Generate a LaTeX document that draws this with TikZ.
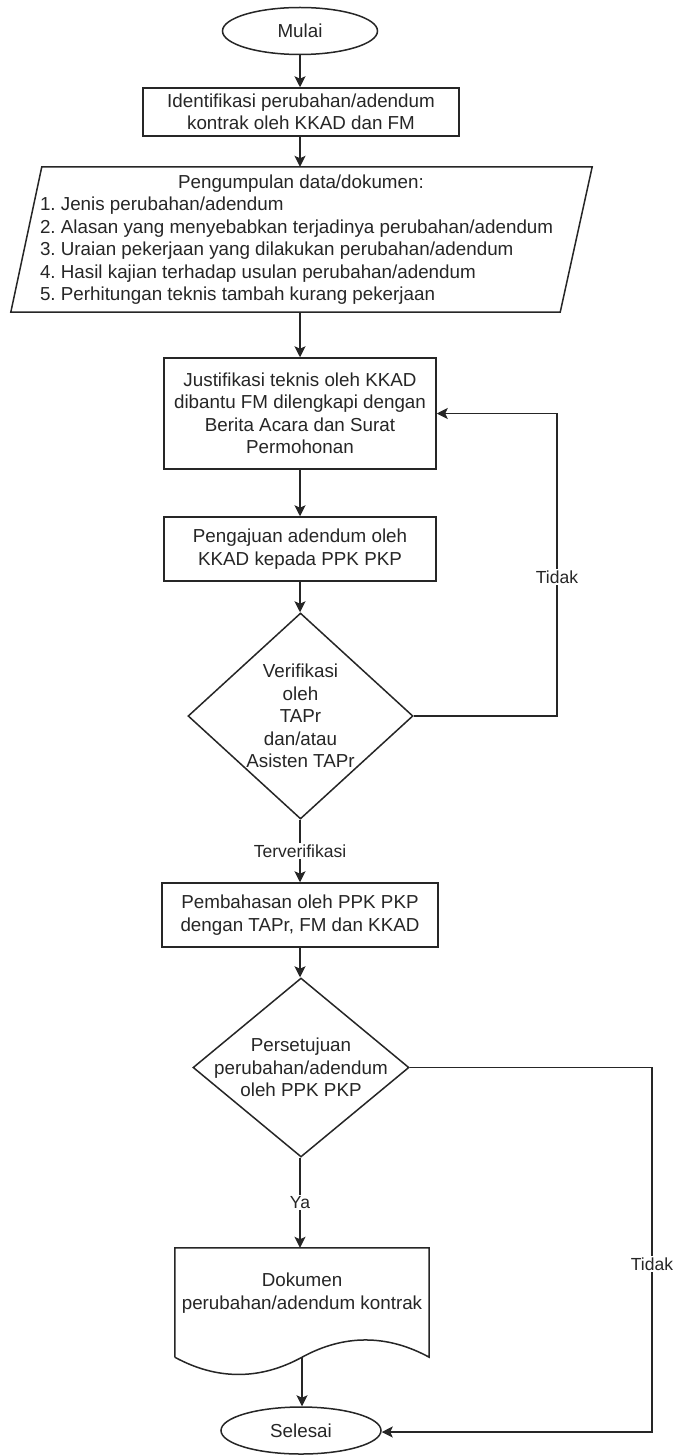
\documentclass[tikz,border=0pt]{standalone}
\usepackage{fontspec}
\setmainfont{Liberation Sans}
\usetikzlibrary{shapes.geometric,arrows.meta,calc}
\definecolor{ink}{HTML}{262626}
\frenchspacing
\begin{document}
\begin{tikzpicture}[x=1pt,y=-1pt,
  every node/.style={font=\fontsize{18.8}{22.5}\selectfont, text=ink},
  base/.style={draw=ink, line width=1.5pt},
  term/.style={base, ellipse, inner sep=0pt, minimum width=155pt, minimum height=47pt},
  proc/.style={base, rectangle, inner sep=0pt, align=center},
  decide/.style={base, diamond, inner sep=0pt},
  arr/.style={draw=ink, line width=1.5pt, -{Stealth[length=11pt,width=11pt,inset=2.5pt]}},
  lbl/.style={fill=white, inner sep=1.5pt, font=\fontsize{17.5}{20}\selectfont},
]
% page area
\path[fill=white, use as bounding box] (0,0) rectangle (677,1455);

% start
\node[term] (mulai) at (300,31) {Mulai};

% identification
\node[proc, minimum width=316pt, minimum height=48pt] (ident) at (301,112)
  {Identifikasi perubahan/adendum\\kontrak oleh KKAD dan FM};

% data collection: parallelogram with a left-aligned list inside
\node[rectangle, inner sep=0pt, minimum width=581pt, minimum height=145pt,
      label={[align=left, anchor=west, inner sep=0pt, xshift=29pt]west:%
        \makebox[522pt][c]{Pengumpulan data/dokumen:}\\
        1. Jenis perubahan/adendum\\
        2. Alasan yang menyebabkan terjadinya perubahan/adendum\\
        3. Uraian pekerjaan yang dilakukan perubahan/adendum\\
        4. Hasil kajian terhadap usulan perubahan/adendum\\
        5. Perhitungan teknis tambah kurang pekerjaan}] (data) at (301.5,239.5) {};
\draw[base] ($(data.north west)+(31,0)$) -- (data.north east)
  -- ($(data.south east)+(-32,0)$) -- (data.south west) -- cycle;

% technical justification
\node[proc, minimum width=272pt, minimum height=111pt] (just) at (300,413.5)
  {Justifikasi teknis oleh KKAD\\dibantu FM dilengkapi dengan\\Berita Acara dan Surat\\Permohonan};

% submission
\node[proc, minimum width=272pt, minimum height=64pt] (ajuan) at (300,549)
  {Pengajuan adendum oleh\\KKAD kepada PPK PKP};

% verification decision
\node[decide, minimum width=225pt, minimum height=206pt,
      label={[align=center]center:Verifikasi\\oleh\\TAPr\\dan/atau\\Asisten TAPr}] (verif) at (300.5,716) {};

% discussion
\node[proc, minimum width=276pt, minimum height=64pt] (bahas) at (300,915)
  {Pembahasan oleh PPK PKP\\dengan TAPr, FM dan KKAD};

% approval decision
\node[decide, minimum width=216pt, minimum height=179pt,
      label={[align=center]center:Persetujuan\\perubahan/adendum\\oleh PPK PKP}] (setuju) at (301,1067.5) {};

% output document (wavy bottom)
\node[rectangle, inner sep=0pt, minimum width=254pt, minimum height=109pt,
      label={[align=center, yshift=9.5pt]center:Dokumen\\perubahan/adendum kontrak}] (dok) at (302,1302.5) {};
\draw[base] (dok.south west) -- (dok.north west) -- (dok.north east) -- (dok.south east)
  .. controls ($(dok.south)+(85,-23)$) and ($(dok.south)+(42,-23)$) .. (dok.south)
  .. controls ($(dok.south)+(-42,23)$) and ($(dok.south)+(-85,23)$) .. (dok.south west);

% end
\node[term, minimum width=160pt] (selesai) at (301,1430.5) {Selesai};

% main flow
\draw[arr] (mulai.south) -- (mulai.south |- ident.north);
\draw[arr] (ident.south -| mulai.south) -- (mulai.south |- data.north);
\draw[arr] (mulai.south |- data.south) -- (mulai.south |- just.north);
\draw[arr] (just.south) -- (ajuan.north);
\draw[arr] (ajuan.south) -- (ajuan.south |- verif.north);
\draw[arr] (ajuan.south |- verif.south) -- node[lbl] {Terverifikasi} (bahas.north);
\draw[arr] (bahas.south) -- (bahas.south |- setuju.north);
\draw[arr] (bahas.south |- setuju.south) -- node[lbl] {Ya} (bahas.south |- dok.north);
\draw[arr] (dok.south) -- (dok.south |- selesai.north);

% return paths
\coordinate (loopA) at (557,413.5);
\coordinate (loopB) at (652,1432);
\draw[arr] (verif.east) -| node[lbl, pos=0.73] {Tidak} (loopA) -- (just.east);
\draw[arr] (setuju.east) -| node[lbl, pos=0.77] {Tidak} (loopB) -- (selesai.east |- loopB);
\end{tikzpicture}
\end{document}
